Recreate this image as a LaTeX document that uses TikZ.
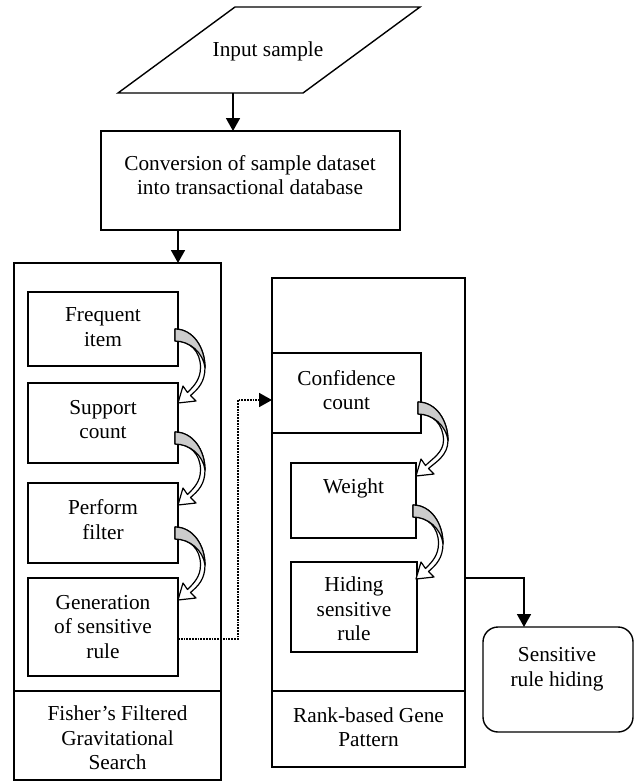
\documentclass[tikz,border=0pt]{standalone}
\usepackage{fontspec}
\setmainfont{Liberation Serif}
\usetikzlibrary{arrows.meta,fit}
\newcommand\curvearr[4]{%
 \begin{scope}[shift={(#1,#2)}]
 \pgfmathsetmacro\cax{#3-#1}\pgfmathsetmacro\cay{#4-#2}%
 \pgfmathsetmacro\cam{0.52*\cay}%
 \draw[line width=1.2pt, fill=white, line join=round] (-3,0) .. controls (15,0) and (27,{0.25*\cay}) .. (27,\cam) .. controls (27,{0.72*\cay}) and ({\cax+20},{\cay-14}) .. ({\cax+12.5},{\cay-7.5}) -- ({\cax+18},{\cay-2}) -- (\cax,\cay) -- ({\cax+5},{\cay-17}) -- ({\cax+9.5},{\cay-10.5}) .. controls ({\cax+16},{\cay-17}) and (22.5,{0.68*\cay}) .. (22.5,\cam) .. controls (22.5,{0.3*\cay}) and (12,12) .. (-3,12) -- cycle;
 \draw[line width=1.2pt, fill=gray!40, line join=round] (-3,0) .. controls (15,0) and (27,{0.25*\cay}) .. (27,\cam) .. controls (25,{0.32*\cay}) and (12,12) .. (-3,12) -- cycle;
 \end{scope}}
\begin{document}
\begin{tikzpicture}[x=1pt,y=-1pt,
  box/.style={draw, line width=1.4pt, inner sep=0pt, outer sep=0pt},
  obox/.style={draw, line width=1.2pt, inner sep=0pt, outer sep=0pt},
  txt/.style={align=center, inner sep=0pt, font=\fontsize{21.3}{24.5}\selectfont},
  arr/.style={line width=1.7pt, -{Triangle[length=13pt,width=14pt]}},
  dotline/.style={line width=1.8pt, densely dotted, -{Triangle[length=13pt,width=14pt]}}]
\useasboundingbox (0,0) rectangle (638,782);
% input parallelogram
\draw[line width=1.4pt, line join=miter] (235,7) -- (420,7) -- (303,93) -- (118,93) -- cycle;
\node[txt] (inp) at (268,51) {Input sample};
\coordinate (inbot) at (233,93);
% conversion
\node[box, fit={(101,131)(400,230)}] (conv) {};
\node[txt] (convt) at (250,175) {Conversion of sample dataset\\into transactional database};
% left column
\node[obox, fit={(14,263)(221,780)}] (lbox) {};
\draw[line width=1.2pt] (14,691) -- (221,691);
\node[txt] (lboxt) at (117.5,738) {Fisher’s Filtered\\Gravitational\\Search};
\node[box, fit={(28,292)(178,366)}] (freq) {};
\node[txt] (freqt) at (103,327) {Frequent\\item};
\node[box, fit={(28,383)(178,463)}] (supp) {};
\node[txt] (suppt) at (103,419.5) {Support\\count};
\node[box, fit={(28,483)(178,563)}] (perf) {};
\node[txt] (perft) at (103,519.5) {Perform\\filter};
\node[box, fit={(28,578)(178,676)}] (gen) {};
\node[txt] (gent) at (103,627) {Generation\\of sensitive\\rule};
% right column
\node[obox, fit={(272,278)(465,767)}] (rbox) {};
\draw[line width=1.2pt] (272,691) -- (465,691);
\node[txt] (rboxt) at (368.5,727) {Rank-based Gene\\Pattern};
\node[box, fit={(272,353)(421,433)}] (conf) {};
\node[txt] (conft) at (346.5,390) {Confidence\\count};
\node[box, fit={(291,463)(416,538)}] (wt) {};
\node[txt] (wtt) at (353.5,488) {Weight};
\node[box, fit={(291,562)(417,652)}] (hid) {};
\node[txt] (hidt) at (354,609) {Hiding\\sensitive\\rule};
% output
\node[box, rounded corners=15pt, fit={(483,627)(633,732)}] (sens) {};
\node[txt] (senst) at (557,669) {Sensitive\\rule hiding};
% connectors
\draw[arr] (inbot) -- (inbot |- conv.north);
\draw[arr] ([xshift=-72.5pt]conv.south) -- ([xshift=-72.5pt]conv.south |- lbox.north);
\draw[dotline] ([yshift=-12pt]gen.east) -- ++(60,0) |- ([yshift=-7pt]conf.west);
\coordinate (outstart) at (465,578);
\coordinate (outturn) at (524,578);
\draw[arr] (outstart) -- (outturn) -- (outturn |- sens.north);
% curved arrows
\curvearr{178}{329}{178}{403}
\curvearr{178}{432}{178}{505}
\curvearr{178}{527}{178}{600}
\curvearr{421}{402}{416}{476}
\curvearr{416}{505}{416}{579}
\end{tikzpicture}
\end{document}
